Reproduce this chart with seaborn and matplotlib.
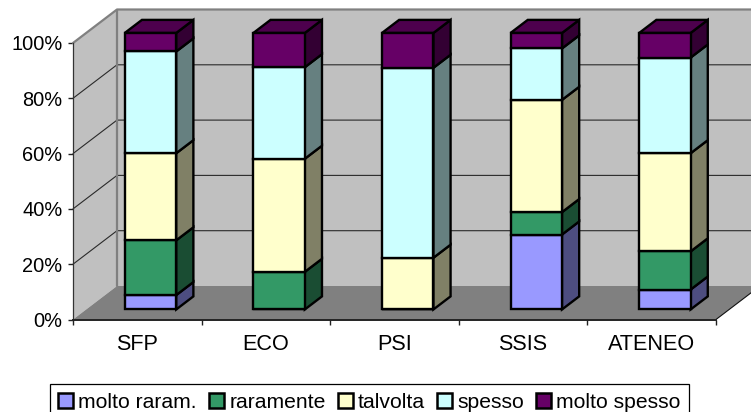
import matplotlib
matplotlib.use("Agg")
import matplotlib.pyplot as plt
import seaborn as sns
import pandas as pd
from matplotlib.patches import Patch, Polygon
from matplotlib.transforms import Affine2D

categories = ["SFP", "ECO", "PSI", "SSIS", "ATENEO"]
series_names = ["molto raram.", "raramente", "talvolta", "spesso", "molto spesso"]
molto_raram = [5.2, 0, 0, 27.1, 7.2]
raramente = [19.8, 13.6, 0, 8.1, 13.8]
talvolta = [31.5, 40.9, 18.7, 40.6, 35.5]
spesso = [36.8, 33.1, 68.7, 18.6, 34.6]
molto_spesso = [6.7, 12.4, 12.6, 5.6, 8.9]
y_ticks = [0, 20, 40, 60, 80, 100]

front_colors = ["#9999FF", "#339966", "#FFFFCC", "#CCFFFF", "#660066"]
side_colors = ["#4D4D80", "#1A4D33", "#808066", "#668080", "#330033"]
top_color = "#4D004D"

# oblique depth: one unit of z moves this far in data units
DX = 44 / 128.6
DY = 33.5 / 2.765
Z0 = 0.3
Z1 = 0.69
BAR_W = 0.4


def pt(x, y, z):
    return (x + z * DX, y + z * DY)


sns.set_theme(style="white")
plt.rcParams["font.family"] = ["Liberation Sans", "DejaVu Sans"]

fig = plt.figure(figsize=(7.51, 4.12), dpi=100)
ax = fig.add_axes([73 / 751, (412 - 319.5) / 412, 643 / 751, 276.5 / 412])
ax.patch.set_alpha(0)

x0, x1 = -0.5, 4.5

# walls and floor
back = Polygon([pt(x0, 0, 1), pt(x1, 0, 1), pt(x1, 100, 1), pt(x0, 100, 1)],
               fc="#C0C0C0", ec="none", zorder=0.5, clip_on=False)
left = Polygon([pt(x0, 0, 0), pt(x0, 0, 1), pt(x0, 100, 1), pt(x0, 100, 0)],
               fc="#C0C0C0", ec="none", zorder=0.5, clip_on=False)
floor = Polygon([pt(x0, 0, 0), pt(x1, 0, 0), pt(x1, 0, 1), pt(x0, 0, 1)],
                fc="#808080", ec="none", zorder=0.8, clip_on=False)
ax.add_patch(back)
ax.add_patch(left)
ax.add_patch(floor)

for t in y_ticks[1:-1]:
    xs, ys = zip(pt(x0, t, 0), pt(x0, t, 1), pt(x1, t, 1))
    ax.plot(xs, ys, color="#2a2a2a", lw=0.8, zorder=0.7, clip_on=False)

xs, ys = zip(pt(x0, 100, 0), pt(x0, 100, 1), pt(x1, 100, 1))
ax.plot(xs, ys, color="#808080", lw=1.6, zorder=0.9, clip_on=False)
xs, ys = zip(pt(x0, 0, 1), pt(x0, 100, 1))
ax.plot(xs, ys, color="#808080", lw=1.6, zorder=0.7, clip_on=False)
xs, ys = zip(pt(x1, 0, 0), pt(x1, 0, 1))
ax.plot(xs, ys, color="#111111", lw=0.8, zorder=0.9, clip_on=False)

# stacked front faces through seaborn, then pushed back to their depth
series = [molto_raram, raramente, talvolta, spesso, molto_spesso]
shift = Affine2D().translate(Z0 * DX, Z0 * DY) + ax.transData
bottoms = [0] * len(categories)
for name, vals, col, side in zip(series_names, series, front_colors, side_colors):
    df = pd.DataFrame({"cat": categories, "val": vals})
    sns.barplot(data=df, x="cat", y="val", order=categories, color=col, saturation=1,
                width=BAR_W, bottom=bottoms, edgecolor="black", linewidth=1.7,
                errorbar=None, ax=ax, zorder=3)
    for bar in ax.containers[-1]:
        bar.set_transform(shift)
        bar.set_clip_on(False)
        bar.set_joinstyle("miter")
    for i, v in enumerate(vals):
        if v == 0:
            continue
        xr = i + BAR_W / 2
        lo = bottoms[i]
        hi = lo + v
        ax.add_patch(Polygon([pt(xr, lo, Z0), pt(xr, lo, Z1), pt(xr, hi, Z1), pt(xr, hi, Z0)],
                             fc=side, ec="black", lw=1.7, zorder=2, clip_on=False))
    bottoms = [b + v for b, v in zip(bottoms, vals)]

for i in range(len(categories)):
    xl, xr = i - BAR_W / 2, i + BAR_W / 2
    top = bottoms[i]
    ax.add_patch(Polygon([pt(xl, top, Z0), pt(xr, top, Z0), pt(xr, top, Z1), pt(xl, top, Z1)],
                         fc=top_color, ec="black", lw=1.7, zorder=2.5, clip_on=False))

ax.set_xlim(x0, x1)
ax.set_ylim(0, 100)
ax.set_xlabel("")
ax.set_ylabel("")
ax.grid(False)

ax.set_yticks(y_ticks, [f"{t}%" for t in y_ticks])
ax.set_xticks(range(len(categories)), categories)
ax.set_xticks([x0 + i for i in range(len(categories) + 1)], minor=True)
ax.tick_params(axis="y", length=3.5, width=1, color="#222222", left=True, pad=4, labelsize=14.4, labelcolor="black")
ax.tick_params(axis="x", which="major", length=0, pad=10.5, labelsize=15.6, labelcolor="black")
ax.tick_params(axis="x", which="minor", length=3.5, width=1, color="#222222", bottom=True)
for s in ["top", "right"]:
    ax.spines[s].set_visible(False)
ax.spines["left"].set_color("#333333")
ax.spines["left"].set_linewidth(0.9)
ax.spines["bottom"].set_color("#222222")
ax.spines["bottom"].set_linewidth(1.4)

handles = [Patch(facecolor=c, edgecolor="black", linewidth=1.8, label=n)
           for c, n in zip(front_colors, series_names)]
leg = ax.legend(handles=handles, ncol=5, loc="center", fontsize=15.2, labelcolor="black",
                frameon=True, fancybox=False, framealpha=1, edgecolor="black",
                handlelength=0.7, handleheight=0.7, handletextpad=0.25,
                columnspacing=0.58, borderpad=0.4, borderaxespad=0,
                bbox_to_anchor=(369.5 / 751, 10 / 412), bbox_transform=fig.transFigure)
leg.get_frame().set_linewidth(0.9)

fig.savefig("out.png", dpi=100)
